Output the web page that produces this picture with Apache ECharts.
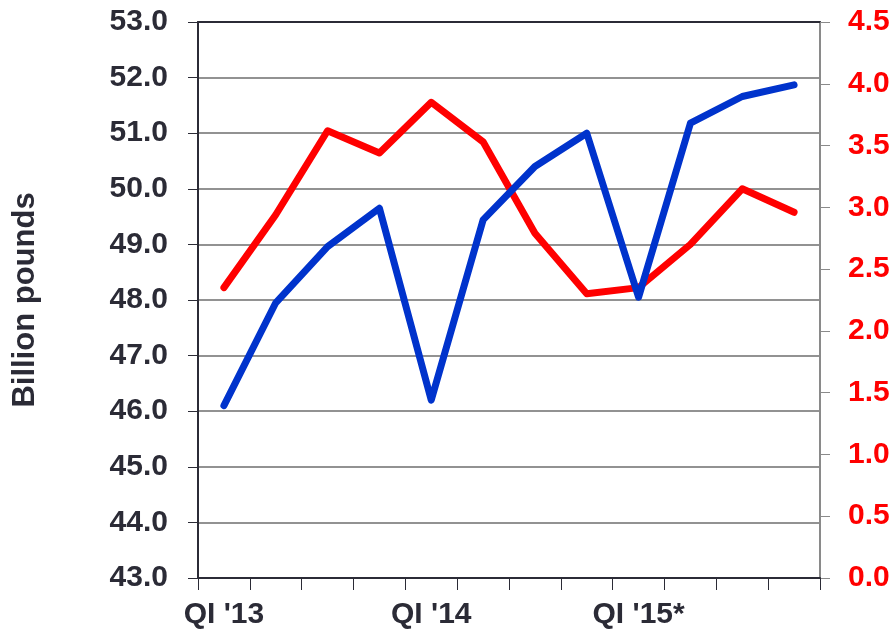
<!DOCTYPE html>
<html><head><meta charset="utf-8">
<script src="https://cdn.jsdelivr.net/npm/echarts@6/dist/echarts.min.js"></script>
<style>html,body{margin:0;padding:0;background:#fff}#c{width:894px;height:632px}</style>
</head><body><div id="c"></div>
<script>
var categories = ["QI '13","QII '13","QIII '13","QIV '13","QI '14","QII '14","QIII '14","QIV '14","QI '15*","QII '15*","QIII '15*","QIV '15*"];
var productionBillionPounds = [46.1, 47.95, 48.96, 49.65, 46.2, 49.44, 50.4, 51.0, 48.05, 51.18, 51.66, 51.87];
var changePercent = [2.35, 2.94, 3.62, 3.44, 3.85, 3.53, 2.79, 2.30, 2.35, 2.70, 3.15, 2.96];
var leftTicks = {min: 43, max: 53, interval: 1};
var rightTicks = {min: 0, max: 4.5, interval: 0.5};

var dark = '#2b2b36';
var font = 'Liberation Sans, Arial, sans-serif';
var chart = echarts.init(document.getElementById('c'));
chart.setOption({
  animation: false,
  grid: {left: 198, right: 74, top: 22, bottom: 54},
  xAxis: [{
    type: 'category', data: categories, boundaryGap: true,
    axisLine: {lineStyle: {color: dark, width: 2}},
    axisTick: {show: true, interval: 0, length: 12, lineStyle: {color: dark, width: 1}},
    axisLabel: {interval: 3, margin: 22, color: dark, fontFamily: font, fontWeight: 'bold', fontSize: 30},
    splitLine: {show: false}
  }, {
    type: 'category', data: categories, position: 'top',
    axisLine: {show: true, lineStyle: {color: dark, width: 2}},
    axisTick: {show: false}, axisLabel: {show: false}, splitLine: {show: false}
  }],
  yAxis: [{
    type: 'value', min: leftTicks.min, max: leftTicks.max, interval: leftTicks.interval,
    name: 'Billion pounds', nameLocation: 'middle', nameRotate: 90, nameGap: 157,
    nameTextStyle: {color: dark, fontFamily: font, fontWeight: 'bold', fontSize: 31},
    axisLine: {show: true, lineStyle: {color: dark, width: 2}},
    axisTick: {show: true, length: 10, lineStyle: {color: dark}},
    axisLabel: {margin: 30, color: dark, fontFamily: font, fontWeight: 'bold', fontSize: 30,
      formatter: function (v) { return v.toFixed(1); }},
    splitLine: {show: true, lineStyle: {color: '#6e6e6e', width: 1.5}}
  }, {
    type: 'value', min: rightTicks.min, max: rightTicks.max, interval: rightTicks.interval,
    position: 'right',
    axisLine: {show: true, lineStyle: {color: '#8a8a8a', width: 2}},
    axisTick: {show: true, length: 10, lineStyle: {color: '#8a8a8a'}},
    axisLabel: {margin: 28, color: '#ff0000', fontFamily: font, fontWeight: 'bold', fontSize: 30,
      formatter: function (v) { return v.toFixed(1); }},
    splitLine: {show: false}
  }],
  series: [{
    type: 'line', yAxisIndex: 0, data: productionBillionPounds, showSymbol: false,
    lineStyle: {color: '#0033cc', width: 7, cap: 'round', join: 'round'}, z: 3
  }, {
    type: 'line', yAxisIndex: 1, data: changePercent, showSymbol: false,
    lineStyle: {color: '#ff0000', width: 7, cap: 'round', join: 'round'}, z: 2
  }]
});
</script></body></html>
